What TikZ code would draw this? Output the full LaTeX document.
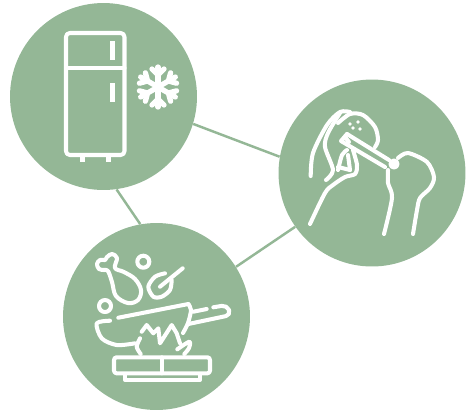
\documentclass[tikz,border=0pt]{standalone}
\usepackage{tikz}
\usepackage{xcolor}
\definecolor{sage}{RGB}{148,183,150}

\begin{document}
\begin{tikzpicture}[x=0.02cm, y=-0.02cm]
    % Styles for circles and lines
    \tikzstyle{spot} = [circle, fill=sage, inner sep=0pt, minimum size=3.74cm]
    \tikzstyle{link} = [draw=sage, line width=1.4pt]
    \tikzstyle{icon} = [draw=white, line width=2.3pt, line cap=round, line join=round]
    \tikzstyle{speck} = [fill=white]

    \useasboundingbox (0,0) rectangle (469,414);

  % Nodes with explicit coordinates
    \node[spot] (fridge) at (103.5,96.5) {};
    \node[spot] (salt) at (372,173) {};
    \node[spot] (wok) at (156.5,316.5) {};

  % Lines between the circles
    \draw[link] (fridge.-17) -- (salt.170);
    \draw[link] (fridge.-82) -- (wok.100);
    \draw[link] (wok.32) -- (salt.215);

  % Fridge
    \draw[icon, rounded corners=2.2pt] (66,33) rectangle (124.5,155);
    \draw[icon] (66,68) -- (124.5,68);
    \fill[white] (110,41) rectangle (115,60);
    \fill[white] (110,83) rectangle (115,102);
    \fill[white] (80,155) rectangle (85,162);
    \fill[white] (105.5,155) rectangle (110.5,162);

  % Snowflake
    \foreach \a in {0,60,...,300} {
        \draw[icon, line width=3pt, rotate around={\a:(158,87)}] (158,87) -- (158,67);
        \draw[icon, line width=3pt, rotate around={\a:(158,87)}] (152,69) -- (158,75) -- (164,69);
    }

  % Salt shaker and hands
    \draw[icon] plot[smooth] coordinates {(338,123) (350,114) (363,115) (375,127) (378,140) (375,147)};
    \draw[icon] (347,134) -- (389,160);
    \draw[icon] (347,134) -- (341,141) -- (385,167);
    \draw[icon] (345,137) -- (349,142);
    \draw[icon, fill=white] (394,164) circle (3.5);
    \fill[speck] (350,124) circle (1.8);
    \fill[speck] (358,122) circle (1.8);
    \fill[speck] (353,128) circle (1.8);
    \fill[speck] (360,129) circle (1.8);
    \draw[icon] plot[smooth] coordinates {(310.7,176) (313,153) (327,125) (340,112) (350,112)};
    \draw[icon] plot[smooth] coordinates {(326,180) (333,170) (325,147) (328,133) (340,113)};
    \draw[icon] plot[smooth] coordinates {(310,224) (325,193) (333,185) (345,177) (355,174) (357,165) (353,150)};
    \draw[icon] plot[smooth] coordinates {(338,170) (342,155) (347,150)};
    \draw[icon] (350,170) -- (348,155);
    \draw[icon] (338,167) -- (350,170);
    \draw[icon] plot[smooth] coordinates {(398,158) (408,153) (427,162) (434,177) (430,188) (420,198) (417,210) (413,234)};
    \draw[icon] plot[smooth] coordinates {(384,234) (392,198) (388,183) (388,170)};

  % Food in the air
    \draw[icon] plot[smooth cycle, tension=0.6] coordinates {(108,271) (112,282) (116,296) (128,303) (138,300) (141,290) (135,279) (124,272) (115,268) (117,258) (112,254) (107,257) (105,260) (100,260) (97,264) (99,269) (104,270)};
    \draw[icon] (143.3,261.7) circle (6);
    \draw[icon] (105,306) circle (6);
    \draw[icon] plot[smooth] coordinates {(165,273.3) (155,276.7) (148.3,286.7) (153.3,296.7) (161.7,296.7) (170,290) (171.7,280)};
    \draw[icon] (160,286.7) -- (182.7,268.3);

  % Pan
    \draw[icon] (118.3,317.7) -- (188.3,304);
    \draw[icon] plot[smooth] coordinates {(110,320.7) (96.7,323.3) (101.7,338.3) (116.7,345) (135,343.3)};
    \draw[icon] plot[smooth] coordinates {(188.3,304) (191,310) (188,323) (183,333)};
    \draw[icon] (193.3,311.7) -- (206.7,309);
    \draw[icon, rounded corners=3pt] (213.3,307.3) -- (227,305) -- (231,315) -- (188.3,324);

  % Flame
    \draw[icon] (141.7,331.7) -- (146.7,325) -- (153.3,333.3) -- (158.3,328.3) -- (160,343.3) -- (171.7,325) -- (176.7,333.3) -- (180,343.3);
    \draw[icon] plot[smooth] coordinates {(140,338.3) (136.7,346.7) (140.7,354)};
    \draw[icon] plot[smooth] coordinates {(177.3,349.3) (189.3,341.7) (189,348) (184.3,354)};

  % Stove
    \draw[icon, rounded corners=1.5pt] (114,357.3) rectangle (210,373.3);
    \draw[icon] (161.7,357.3) -- (161.7,373.3);
    \draw[icon] (125,375) -- (125,380) -- (200,380) -- (200,375);

\end{tikzpicture}
\end{document}
